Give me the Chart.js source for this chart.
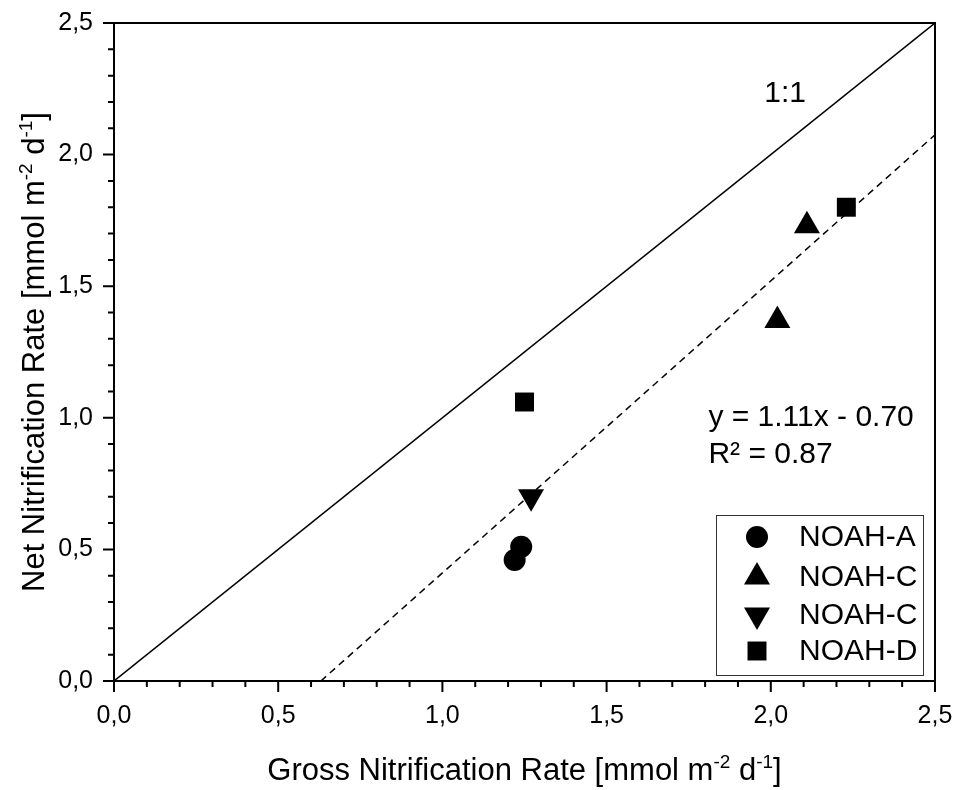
<!DOCTYPE html>
<html>
<head>
<meta charset="utf-8">
<script src="https://cdn.jsdelivr.net/npm/chart.js@4.4.0/dist/chart.umd.min.js"></script>
<style>
  body{margin:0;background:#fff;}
  #wrap{width:960px;height:790px;position:relative;}
</style>
</head>
<body>
<div id="wrap"><canvas id="chart"></canvas></div>
<script>
// --- donnees ---
const seriesLabels = ["NOAH-A","NOAH-C","NOAH-C","NOAH-D"];
const seriesStyles = ["circle","triangle","triangle","rect"];
const grossA  = [1.22, 1.24];
const netA    = [0.46, 0.51];
const grossC1 = [2.02, 2.11];
const netC1   = [1.37, 1.73];
const grossC2 = [1.27];
const netC2   = [0.70];
const grossD  = [1.25, 2.23];
const netD    = [1.06, 1.80];

// 1:1 et droite de regression (extremites)
const lineX = [0, 2.5];
const lineY = [0, 2.5];
const fitX  = [0.63, 2.5];
const fitY  = [0, 2.075];

const tickLabels = ["0,0","0,5","1,0","1,5","2,0","2,5"];

const FONT = "'Liberation Sans', Arial, sans-serif";

function pts(xs, ys){ return xs.map((x,i)=>({x:x, y:ys[i]})); }

// texte avec exposants : parts = [[txt, sup?], ...]
function drawRich(ctx, parts, size){
  let w = 0;
  parts.forEach(p=>{
    ctx.font = (p[1] ? Math.round(size*0.6) : size) + "px " + FONT;
    w += ctx.measureText(p[0]).width;
  });
  let x = -w/2;
  parts.forEach(p=>{
    ctx.font = (p[1] ? Math.round(size*0.6) : size) + "px " + FONT;
    ctx.fillText(p[0], x, p[1] ? -size*0.38 : 0);
    x += ctx.measureText(p[0]).width;
  });
}

const decorations = {
  id:'decorations',
  afterDraw(chart){
    const {ctx, chartArea:a, scales:{x, y}} = chart;
    ctx.save();
    ctx.strokeStyle = '#000';
    ctx.fillStyle = '#000';

    // cadre haut / droite
    ctx.lineWidth = 2;
    ctx.beginPath();
    ctx.moveTo(a.left, a.top); ctx.lineTo(a.right, a.top); ctx.lineTo(a.right, a.bottom);
    ctx.stroke();

    // graduations majeures et mineures (vers l'exterieur)
    for(let i=0;i<=25;i++){
      const v = i/10, len = (i%5===0) ? 11 : 6;
      const px = x.getPixelForValue(v), py = y.getPixelForValue(v);
      ctx.beginPath();
      ctx.moveTo(px, a.bottom); ctx.lineTo(px, a.bottom+len);
      ctx.moveTo(a.left, py); ctx.lineTo(a.left-len, py);
      ctx.stroke();
    }

    // annotations
    ctx.font = "30px " + FONT;
    ctx.textAlign = 'left';
    ctx.textBaseline = 'alphabetic';
    ctx.fillText("1:1", x.getPixelForValue(1.98), y.getPixelForValue(2.2));
    ctx.fillText("y = 1.11x - 0.70", x.getPixelForValue(1.81), y.getPixelForValue(0.97));
    ctx.fillText("R\u00B2 = 0.87", x.getPixelForValue(1.81), y.getPixelForValue(0.827));

    // legende
    const lx = 716, ly = 515, lw = 207, lh = 160;
    ctx.lineWidth = 1;
    ctx.strokeStyle = '#333';
    ctx.strokeRect(lx+0.5, ly+0.5, lw, lh);
    const rows = [537, 577, 615, 651];
    ctx.textBaseline = 'middle';
    chart.data.datasets.slice(0,4).forEach((ds,i)=>{
      Chart.helpers.drawPoint(ctx, {pointStyle: ds.pointStyle, radius: ds.pointRadius, rotation: ds.rotation||0, borderWidth:0}, 757, rows[i]);
      ctx.fillStyle = '#000';
      ctx.font = "30px " + FONT;
      ctx.fillText(ds.label, 799, rows[i]+1);
    });

    // titres des axes
    ctx.textAlign = 'left';
    ctx.textBaseline = 'alphabetic';
    ctx.save();
    ctx.translate((a.left+a.right)/2, 780);
    drawRich(ctx, [["Gross Nitrification Rate [mmol m",0],["-2",1],[" d",0],["-1",1],["]",0]], 31);
    ctx.restore();
    ctx.save();
    ctx.translate(44, (a.top+a.bottom)/2);
    ctx.rotate(-Math.PI/2);
    drawRich(ctx, [["Net Nitrification Rate [mmol m",0],["-2",1],[" d",0],["-1",1],["]",0]], 31);
    ctx.restore();

    ctx.restore();
  }
};

function pointSet(label, xs, ys, style, r, rot){
  return {label:label, data:pts(xs,ys), pointStyle:style, pointRadius:r, pointHoverRadius:r,
          rotation:rot||0, backgroundColor:'#000', borderColor:'#000', borderWidth:0, showLine:false};
}

const ctx = document.getElementById('chart').getContext('2d');
new Chart(ctx, {
  type:'scatter',
  data:{datasets:[
    pointSet(seriesLabels[0], grossA, netA, seriesStyles[0], 11),
    pointSet(seriesLabels[1], grossC1, netC1, seriesStyles[1], 15),
    pointSet(seriesLabels[2], grossC2, netC2, seriesStyles[2], 15, 180),
    pointSet(seriesLabels[3], grossD, netD, seriesStyles[3], 13.4),
    {label:'1:1', data:pts(lineX,lineY), showLine:true, pointRadius:0, borderColor:'#000', borderWidth:1.5},
    {label:'fit', data:pts(fitX,fitY), showLine:true, pointRadius:0, borderColor:'#000', borderWidth:1.5, borderDash:[7,5]}
  ]},
  options:{
    responsive:true,
    maintainAspectRatio:false,
    animation:false,
    layout:{padding:{left:0, top:23, right:25, bottom:0}},
    plugins:{legend:{display:false}, tooltip:{enabled:false}},
    scales:{
      x:{
        type:'linear', min:0, max:2.5,
        grid:{display:false, drawTicks:false},
        border:{display:true, color:'#000', width:2},
        ticks:{stepSize:0.5, padding:20, color:'#000', font:{family:FONT, size:25},
               callback:(v,i)=>tickLabels[i]},
        afterFit:(s)=>{ s.height = 109; s.paddingLeft = 0; s.paddingRight = 0; }
      },
      y:{
        type:'linear', min:0, max:2.5,
        grid:{display:false, drawTicks:false},
        border:{display:true, color:'#000', width:2},
        ticks:{stepSize:0.5, padding:21, color:'#000', font:{family:FONT, size:25},
               callback:(v,i)=>tickLabels[i]},
        afterFit:(s)=>{ s.width = 114; s.paddingTop = 0; s.paddingBottom = 0; }
      }
    }
  },
  plugins:[decorations]
});
</script>
</body>
</html>
